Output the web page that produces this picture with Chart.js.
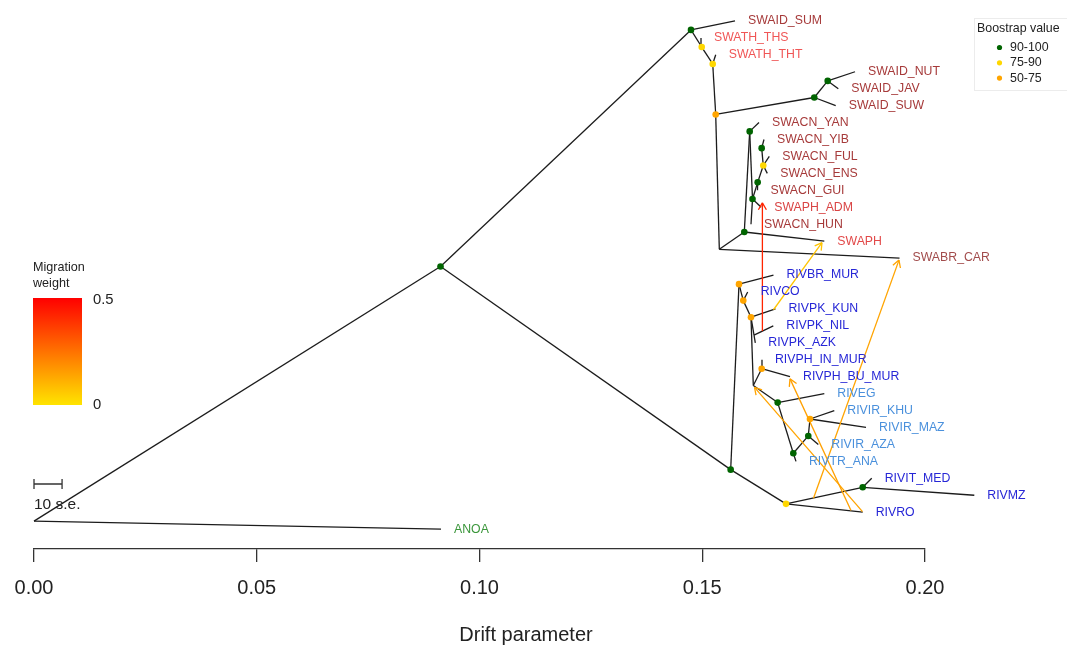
<!DOCTYPE html>
<html>
<head>
<meta charset="utf-8">
<title>TreeMix</title>
<script src="https://cdn.jsdelivr.net/npm/chart.js@4/dist/chart.umd.min.js"></script>
<style>
  body { margin: 0; background: #fff; }
</style>
</head>
<body>
<canvas id="arbol" width="1067" height="647"></canvas>
<script>
// --- DATOS DEL ÁRBOL (deriva, fila) ---
// hojas de arriba a abajo; la fila de cada hoja es su posición desde abajo
const hojas = [
  'SWAID_SUM', 'SWATH_THS', 'SWATH_THT', 'SWAID_NUT', 'SWAID_JAV', 'SWAID_SUW',
  'SWACN_YAN', 'SWACN_YIB', 'SWACN_FUL', 'SWACN_ENS', 'SWACN_GUI', 'SWAPH_ADM',
  'SWACN_HUN', 'SWAPH', 'SWABR_CAR', 'RIVBR_MUR', 'RIVCO', 'RIVPK_KUN', 'RIVPK_NIL',
  'RIVPK_AZK', 'RIVPH_IN_MUR', 'RIVPH_BU_MUR', 'RIVEG', 'RIVIR_KHU', 'RIVIR_MAZ',
  'RIVIR_AZA', 'RIVTR_ANA', 'RIVIT_MED', 'RIVMZ', 'RIVRO', 'ANOA'
];
const hojaDeriva = [
  0.15735, 0.14972, 0.15302, 0.18429, 0.18054, 0.17996,
  0.16274, 0.16386, 0.16505, 0.16460, 0.16240, 0.16323,
  0.16094, 0.17740, 0.19428, 0.16599, 0.16020, 0.16644, 0.16595,
  0.16191, 0.16341, 0.16970, 0.17740, 0.17964, 0.18676,
  0.17605, 0.17104, 0.18804, 0.21107, 0.18602, 0.09136
];

// nodos internos
const nodoId     = ['R', 'A', 'B', 'Y1', 'Y2', 'OT', 'GS', 'GNJ', 'NL', 'G0', 'G1', 'G2', 'G3', 'YC', 'G4',
                    'C', 'O1', 'O2', 'O3', 'N4', 'N5', 'O4', 'G5', 'G6', 'G7', 'O5', 'Y3', 'G8'];
const nodoDeriva = [0, 0.09125, 0.14747, 0.14988, 0.15235, 0.15302, 0.17515, 0.17816, 0.15383, 0.15944,
                    0.16065, 0.16128, 0.16244, 0.16370, 0.16334, 0.15638, 0.15825, 0.15921, 0.16094,
                    0.16162, 0.16146, 0.16334, 0.16693, 0.17044, 0.17380, 0.17418, 0.16880, 0.18602];
const nodoFila   = [0.47, 15.50, 29.47, 28.46, 27.46, 24.48, 25.48, 26.46, 16.52, 17.54,
                    23.48, 19.49, 20.47, 21.47, 22.49, 3.51, 14.46, 13.49, 12.51,
                    11.45, 8.48, 9.47, 7.47, 4.48, 5.50, 6.50, 1.49, 2.47];
const nodoSoporte = [null, '90-100', '90-100', '75-90', '75-90', '50-75', '90-100', '90-100', null, '90-100',
                     '90-100', '90-100', '90-100', '75-90', '90-100', '90-100', '50-75', '50-75', '50-75',
                     null, null, '50-75', '90-100', '90-100', '90-100', '50-75', '75-90', '90-100'];

// aristas padre -> hijo
const aristas = [
  ['R', 'A'], ['R', 'ANOA'], ['A', 'B'], ['A', 'C'],
  ['B', 'SWAID_SUM'], ['B', 'Y1'], ['Y1', 'SWATH_THS'], ['Y1', 'Y2'], ['Y2', 'SWATH_THT'], ['Y2', 'OT'],
  ['OT', 'GS'], ['OT', 'NL'], ['GS', 'SWAID_SUW'], ['GS', 'GNJ'], ['GNJ', 'SWAID_NUT'], ['GNJ', 'SWAID_JAV'],
  ['NL', 'G0'], ['NL', 'SWABR_CAR'], ['G0', 'SWAPH'], ['G0', 'G1'], ['G1', 'SWACN_YAN'], ['G1', 'G2'],
  ['G2', 'SWACN_HUN'], ['G2', 'SWAPH_ADM'], ['G2', 'G3'], ['G3', 'SWACN_GUI'], ['G3', 'YC'],
  ['YC', 'SWACN_ENS'], ['YC', 'SWACN_FUL'], ['YC', 'G4'], ['G4', 'SWACN_YIB'],
  ['C', 'O1'], ['C', 'Y3'], ['O1', 'RIVBR_MUR'], ['O1', 'O2'], ['O2', 'RIVCO'], ['O2', 'O3'],
  ['O3', 'RIVPK_KUN'], ['O3', 'N4'], ['O3', 'N5'], ['N4', 'RIVPK_NIL'], ['N4', 'RIVPK_AZK'],
  ['N5', 'O4'], ['N5', 'G5'], ['O4', 'RIVPH_IN_MUR'], ['O4', 'RIVPH_BU_MUR'],
  ['G5', 'RIVEG'], ['G5', 'G6'], ['G6', 'RIVTR_ANA'], ['G6', 'G7'], ['G7', 'RIVIR_AZA'], ['G7', 'O5'],
  ['O5', 'RIVIR_KHU'], ['O5', 'RIVIR_MAZ'], ['Y3', 'G8'], ['Y3', 'RIVRO'], ['G8', 'RIVIT_MED'], ['G8', 'RIVMZ']
];

// migraciones: origen y destino en (deriva, fila), peso
const migOrigen  = [[0.16350, 11.69], [0.16599, 12.95], [0.17497, 1.82], [0.18339, 1.10], [0.18597, 1.03]];
const migDestino = [[0.16350, 19.26], [0.17688, 16.91], [0.19416, 15.88], [0.16970, 8.87], [0.16173, 8.37]];
const migPeso    = [0.42, 0.07, 0.14, 0.15, 0.14];

const ticksDeriva = [0, 0.05, 0.10, 0.15, 0.20];
const clasesSoporte = ['90-100', '75-90', '50-75'];
const escalaError = 0.0063;   // 10 s.e.

// --- ESTILO ---
const FUENTE = '"Liberation Sans", Arial, Helvetica, sans-serif';
const COLOR_SOPORTE = { '90-100': '#006400', '75-90': '#ffd700', '50-75': '#ffa500' };
const COLOR_GRUPO = [
  ['SWATH', '#f05656'], ['SWAPH_ADM', '#d94444'], ['SWAPH', '#e24848'], ['SWABR', '#a24c4c'],
  ['SWA', '#a63a3a'], ['RIVEG', '#4a90dc'], ['RIVIR', '#4a90dc'], ['RIVTR', '#4a90dc'],
  ['RIV', '#2626d6'], ['ANOA', '#3a963a']
];
const colorHoja = nombre => COLOR_GRUPO.find(([p]) => nombre.startsWith(p))[1];
const colorMigracion = w => `rgb(255,${Math.round(228 * (1 - Math.min(w, 0.5) / 0.5))},0)`;

// posición de cualquier nodo u hoja
function punto(id) {
  const h = hojas.indexOf(id);
  if (h >= 0) return { x: hojaDeriva[h], y: hojas.length - 1 - h };
  const n = nodoId.indexOf(id);
  return { x: nodoDeriva[n], y: nodoFila[n] };
}

// --- DATASETS ---
const datasets = [];
aristas.forEach(([p, c]) => datasets.push({
  data: [punto(p), punto(c)], showLine: true, borderColor: '#1c1c1c', borderWidth: 1.3,
  pointRadius: 0, clip: false, order: 3
}));
migOrigen.forEach((o, i) => datasets.push({
  data: [{ x: o[0], y: o[1] }, { x: migDestino[i][0], y: migDestino[i][1] }],
  showLine: true, borderColor: colorMigracion(migPeso[i]), borderWidth: 1.3,
  pointRadius: 0, clip: false, order: 2
}));
clasesSoporte.forEach(clase => datasets.push({
  data: nodoId.filter((_, i) => nodoSoporte[i] === clase).map(punto),
  backgroundColor: COLOR_SOPORTE[clase], borderWidth: 0, pointRadius: 3.3,
  clip: false, order: 1
}));

// --- TEXTOS, FLECHAS Y LEYENDAS ---
const dibujoExtra = {
  id: 'dibujoExtra',
  afterDatasetsDraw(chart) {
    const { ctx, scales: { x, y } } = chart;
    ctx.save();

    // puntas de flecha de las migraciones
    ctx.lineWidth = 1.3;
    migOrigen.forEach((o, i) => {
      const d = migDestino[i];
      const x0 = x.getPixelForValue(o[0]), y0 = y.getPixelForValue(o[1]);
      const x1 = x.getPixelForValue(d[0]), y1 = y.getPixelForValue(d[1]);
      const ang = Math.atan2(y1 - y0, x1 - x0);
      ctx.strokeStyle = colorMigracion(migPeso[i]);
      ctx.beginPath();
      [-1, 1].forEach(s => {
        ctx.moveTo(x1, y1);
        ctx.lineTo(x1 - 8 * Math.cos(ang + s * Math.PI / 6), y1 - 8 * Math.sin(ang + s * Math.PI / 6));
      });
      ctx.stroke();
    });

    // etiquetas de las hojas
    ctx.font = `12.3px ${FUENTE}`;
    ctx.textAlign = 'left';
    ctx.textBaseline = 'middle';
    hojas.forEach((h, i) => {
      ctx.fillStyle = colorHoja(h);
      ctx.fillText(h, x.getPixelForValue(hojaDeriva[i]) + 13, y.getPixelForValue(hojas.length - 1 - i));
    });

    // barra de escala
    const bx0 = x.getPixelForValue(0), bx1 = x.getPixelForValue(escalaError);
    ctx.strokeStyle = '#333';
    ctx.lineWidth = 1.3;
    ctx.beginPath();
    ctx.moveTo(bx0, 484); ctx.lineTo(bx1, 484);
    ctx.moveTo(bx0, 479); ctx.lineTo(bx0, 489);
    ctx.moveTo(bx1, 479); ctx.lineTo(bx1, 489);
    ctx.stroke();
    ctx.fillStyle = '#222';
    ctx.font = `15.5px ${FUENTE}`;
    ctx.fillText('10 s.e.', 34, 505);

    // leyenda de peso de migración
    ctx.font = `12.6px ${FUENTE}`;
    ctx.fillText('Migration', 33, 268);
    ctx.fillText('weight', 33, 284);
    const grad = ctx.createLinearGradient(0, 405, 0, 298);
    grad.addColorStop(0, colorMigracion(0));
    grad.addColorStop(1, colorMigracion(0.5));
    ctx.fillStyle = grad;
    ctx.fillRect(33, 298, 49, 107);
    ctx.fillStyle = '#222';
    ctx.font = `14.8px ${FUENTE}`;
    ctx.fillText('0.5', 93, 300);
    ctx.fillText('0', 93, 405);

    // leyenda de bootstrap
    ctx.strokeStyle = '#ececec';
    ctx.lineWidth = 1;
    ctx.strokeRect(974.5, 18.5, 100, 72);
    ctx.font = `12.4px ${FUENTE}`;
    ctx.fillStyle = '#222';
    ctx.fillText('Boostrap value', 977, 29);
    clasesSoporte.forEach((clase, i) => {
      const yy = 47.5 + i * 15.3;
      ctx.fillStyle = COLOR_SOPORTE[clase];
      ctx.beginPath();
      ctx.arc(999.5, yy, 2.6, 0, Math.PI * 2);
      ctx.fill();
      ctx.fillStyle = '#222';
      ctx.fillText(clase, 1010, yy);
    });

    // título del eje, centrado sobre toda la región del dibujo (incluye etiquetas)
    ctx.font = `20px ${FUENTE}`;
    ctx.textAlign = 'center';
    ctx.fillText('Drift parameter', 526, 635);
    ctx.restore();
  }
};

// --- GRÁFICA ---
new Chart(document.getElementById('arbol'), {
  type: 'scatter',
  data: { datasets },
  options: {
    responsive: false,
    devicePixelRatio: 1,
    animation: false,
    layout: { padding: { left: 34, right: 142, top: 0, bottom: 33 } },
    plugins: { legend: { display: false }, tooltip: { enabled: false } },
    scales: {
      x: {
        type: 'linear', min: 0, max: 0.2,
        afterBuildTicks: scale => { scale.ticks = ticksDeriva.map(v => ({ value: v })); },
        ticks: {
          font: { size: 20, family: FUENTE }, color: '#222', padding: 14,
          maxRotation: 0, autoSkip: false, callback: v => v.toFixed(2)
        },
        grid: { drawOnChartArea: false, drawTicks: true, tickLength: 13, color: '#333', lineWidth: 1.3 },
        border: { display: true, color: '#333', width: 1.3 },
        title: { display: false }
      },
      y: { type: 'linear', min: -1.174, max: 31.0, display: false }
    }
  },
  plugins: [dibujoExtra]
});
</script>
</body>
</html>
